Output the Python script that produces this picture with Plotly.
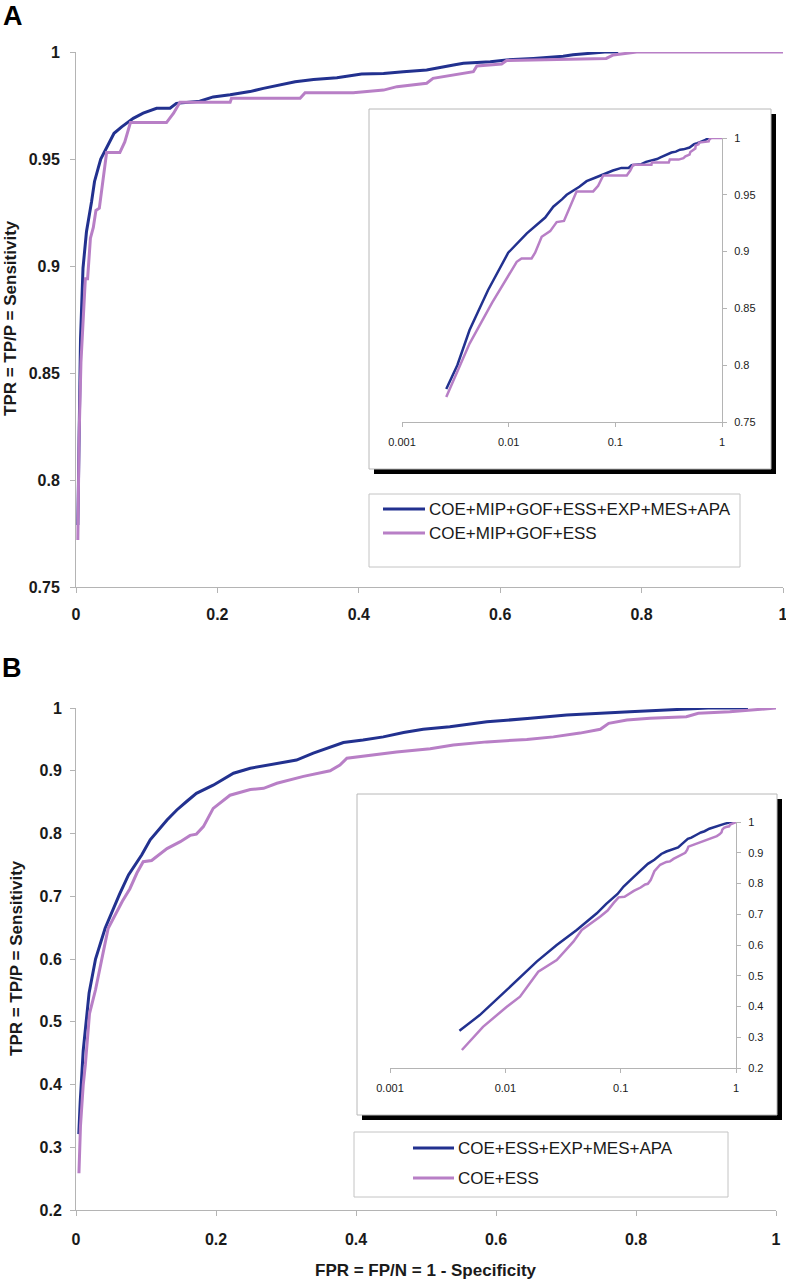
import plotly.graph_objects as go

W, H = 786, 1280

# ---------------- data ----------------
# Panel A
a_blue_fpr = [0.0026, 0.0033, 0.0043, 0.0064, 0.0099, 0.0148, 0.022, 0.0262, 0.0316, 0.035,
              0.046, 0.0538, 0.0646, 0.081, 0.095, 0.114, 0.133, 0.142, 0.175, 0.194,
              0.218, 0.246, 0.265, 0.289, 0.310, 0.336, 0.369, 0.404, 0.435, 0.463,
              0.496, 0.534, 0.548, 0.586, 0.609, 0.647, 0.689, 0.703, 0.748, 0.767]
a_blue_tpr = [0.779, 0.800, 0.831, 0.866, 0.899, 0.916, 0.930, 0.9395, 0.946, 0.950,
              0.957, 0.962, 0.965, 0.969, 0.9714, 0.9737, 0.9737, 0.976, 0.977, 0.979,
              0.980, 0.9815, 0.983, 0.9846, 0.9861, 0.9872, 0.988, 0.9897, 0.990, 0.9908,
              0.9916, 0.9939, 0.9947, 0.9955, 0.9963, 0.997, 0.998, 0.9987, 1.0, 1.0]

a_pink_fpr = [0.0026, 0.0043, 0.0070, 0.0119, 0.0132, 0.0164, 0.0177, 0.0204, 0.0245, 0.0282,
              0.033, 0.0389, 0.0433, 0.062, 0.069, 0.077, 0.128, 0.138, 0.147, 0.218,
              0.220, 0.317, 0.324, 0.392, 0.435, 0.454, 0.496, 0.505, 0.534, 0.562,
              0.567, 0.602, 0.609, 0.708, 0.750, 0.760, 0.793, 1.0]
a_pink_tpr = [0.772, 0.819, 0.855, 0.891, 0.894, 0.894, 0.899, 0.913, 0.918, 0.926,
              0.927, 0.9425, 0.953, 0.953, 0.958, 0.967, 0.967, 0.9714, 0.9765, 0.9765,
              0.9784, 0.9784, 0.981, 0.981, 0.9822, 0.9838, 0.9854, 0.9877, 0.9893, 0.9908,
              0.9935, 0.9944, 0.996, 0.9966, 0.997, 0.9986, 1.0, 1.0]

# Panel B
b_blue_fpr = [0.0040, 0.0060, 0.0103, 0.0187, 0.0279, 0.0416, 0.0621, 0.075, 0.094, 0.106,
              0.130, 0.144, 0.158, 0.172, 0.196, 0.210, 0.225, 0.249, 0.277, 0.315,
              0.339, 0.363, 0.382, 0.410, 0.439, 0.468, 0.496, 0.534, 0.587, 0.649,
              0.701, 0.791, 0.858, 0.903, 0.960]
b_blue_tpr = [0.321, 0.372, 0.454, 0.546, 0.600, 0.649, 0.703, 0.734, 0.766, 0.790,
              0.8215, 0.8375, 0.851, 0.864, 0.877, 0.886, 0.896, 0.904, 0.909, 0.917,
              0.928, 0.937, 0.945, 0.949, 0.954, 0.961, 0.966, 0.970, 0.978, 0.9835,
              0.989, 0.994, 0.997, 1.0, 1.0]

b_pink_fpr = [0.0042, 0.0064, 0.0103, 0.0134, 0.0193, 0.0279, 0.0389, 0.046, 0.0662, 0.077,
              0.087, 0.096, 0.108, 0.130, 0.149, 0.163, 0.172, 0.182, 0.196, 0.220,
              0.249, 0.268, 0.287, 0.325, 0.363, 0.377, 0.387, 0.420, 0.458, 0.506,
              0.539, 0.587, 0.644, 0.682, 0.720, 0.749, 0.761, 0.787, 0.820, 0.872,
              0.889, 0.934, 0.963, 1.0]
b_pink_tpr = [0.2585, 0.334, 0.399, 0.432, 0.513, 0.551, 0.611, 0.649, 0.692, 0.712,
              0.737, 0.755, 0.757, 0.776, 0.787, 0.797, 0.799, 0.811, 0.840, 0.861,
              0.870, 0.872, 0.880, 0.891, 0.900, 0.909, 0.920, 0.925, 0.930, 0.935,
              0.941, 0.946, 0.950, 0.954, 0.960, 0.966, 0.9755, 0.981, 0.9835, 0.986,
              0.9915, 0.994, 0.997, 1.0]

a_names = ["COE+MIP+GOF+ESS+EXP+MES+APA", "COE+MIP+GOF+ESS"]
b_names = ["COE+ESS+EXP+MES+APA", "COE+ESS"]

lin_x_vals = [0, 0.2, 0.4, 0.6, 0.8, 1]
lin_x_text = ["0", "0.2", "0.4", "0.6", "0.8", "1"]
a_y_vals = [0.75, 0.8, 0.85, 0.9, 0.95, 1]
a_y_text = ["0.75", "0.8", "0.85", "0.9", "0.95", "1"]
b_y_vals = [0.2, 0.3, 0.4, 0.5, 0.6, 0.7, 0.8, 0.9, 1]
b_y_text = ["0.2", "0.3", "0.4", "0.5", "0.6", "0.7", "0.8", "0.9", "1"]
log_x_vals = [0.001, 0.01, 0.1, 1]
log_x_text = ["0.001", "0.01", "0.1", "1"]

x_title = "FPR = FP/N = 1 - Specificity"
y_title = "TPR = TP/P = Sensitivity"

# ---------------- style ----------------
BLUE = "#22318f"
PINK = "#b87fc6"
AXIS = "#b4b4b4"
TXT = "#1a1a1a"
FONT = "Liberation Sans, Arial, sans-serif"


def px(x):
    return x / W


def py(y):
    return 1 - y / H


fig = go.Figure()

series = [
    (a_blue_fpr, a_blue_tpr, BLUE, "x", "y", 3),
    (a_pink_fpr, a_pink_tpr, PINK, "x", "y", 3),
    (a_blue_fpr, a_blue_tpr, BLUE, "x3", "y3", 2.5),
    (a_pink_fpr, a_pink_tpr, PINK, "x3", "y3", 2.5),
    (b_blue_fpr, b_blue_tpr, BLUE, "x2", "y2", 3),
    (b_pink_fpr, b_pink_tpr, PINK, "x2", "y2", 3),
    (b_blue_fpr, b_blue_tpr, BLUE, "x4", "y4", 2.5),
    (b_pink_fpr, b_pink_tpr, PINK, "x4", "y4", 2.5),
]
for xs, ys, col, xa, ya, lw in series:
    fig.add_trace(go.Scatter(x=xs, y=ys, mode="lines", xaxis=xa, yaxis=ya,
                             line=dict(color=col, width=lw), showlegend=False,
                             hoverinfo="skip"))

main_tick = dict(family=FONT, size=16, color=TXT, weight="bold")
inset_tick = dict(family=FONT, size=11, color=TXT)

common = dict(showgrid=False, zeroline=False, showline=True, linecolor=AXIS, linewidth=1,
              ticks="outside", tickcolor=AXIS, tickwidth=1, fixedrange=True,
              automargin=False, ticklabeloverflow="allow")

fig.update_layout(
    template="none",
    width=W, height=H, autosize=False,
    margin=dict(l=0, r=0, t=0, b=0, pad=0, autoexpand=False),
    paper_bgcolor="white", plot_bgcolor="rgba(0,0,0,0)",
    showlegend=False,
    xaxis=dict(domain=[px(76), px(783)], range=[0, 1], anchor="y",
               tickvals=lin_x_vals, ticktext=lin_x_text, tickfont=main_tick,
               ticklen=5, ticklabelstandoff=8, **common),
    yaxis=dict(domain=[py(587), py(52)], range=[0.75, 1], anchor="x",
               tickvals=a_y_vals, ticktext=a_y_text, tickfont=main_tick,
               ticklen=5, ticklabelstandoff=7, **common),
    xaxis2=dict(domain=[px(76), px(776)], range=[0, 1], anchor="y2",
                tickvals=lin_x_vals, ticktext=lin_x_text, tickfont=main_tick,
                ticklen=5, ticklabelstandoff=10, **common),
    yaxis2=dict(domain=[py(1210), py(708)], range=[0.2, 1], anchor="x2",
                tickvals=b_y_vals, ticktext=b_y_text, tickfont=main_tick,
                ticklen=5, ticklabelstandoff=5, **common),
    xaxis3=dict(domain=[px(402), px(722)], type="log", range=[-3, 0], anchor="y3",
                tickvals=log_x_vals, ticktext=log_x_text, tickfont=inset_tick,
                ticklen=4, ticklabelstandoff=6, **common),
    yaxis3=dict(domain=[py(422), py(138)], range=[0.75, 1], anchor="x3", side="right",
                tickvals=a_y_vals, ticktext=a_y_text, tickfont=inset_tick,
                ticklen=4, ticklabelstandoff=5, **common),
    xaxis4=dict(domain=[px(390), px(736)], type="log", range=[-3, 0], anchor="y4",
                tickvals=log_x_vals, ticktext=log_x_text, tickfont=inset_tick,
                ticklen=4, ticklabelstandoff=6, **common),
    yaxis4=dict(domain=[py(1068), py(822)], range=[0.2, 1], anchor="x4", side="right",
                tickvals=b_y_vals, ticktext=b_y_text, tickfont=inset_tick,
                ticklen=4, ticklabelstandoff=5, **common),
)

shapes = []


def rect(x0, y0, x1, y1, fill, line_col, lw):
    shapes.append(dict(type="rect", xref="paper", yref="paper", layer="below",
                       x0=px(x0), x1=px(x1), y0=py(y1), y1=py(y0),
                       fillcolor=fill, line=dict(color=line_col, width=lw)))


# inset frames with drop shadow
rect(374, 114, 776, 474, "black", "black", 0)
rect(369, 109, 771, 469, "white", "#b8b8b8", 1)
rect(362, 799, 782, 1120, "black", "black", 0)
rect(357, 794, 777, 1115, "white", "#b8b8b8", 1)
# legend boxes
rect(369, 494, 740, 567, "white", "#c4c4c4", 1)
rect(354, 1132, 728, 1197, "white", "#c4c4c4", 1)

annotations = []


def legend_item(x0, x1, y, col, label):
    shapes.append(dict(type="line", xref="paper", yref="paper", layer="above",
                       x0=px(x0), x1=px(x1), y0=py(y), y1=py(y),
                       line=dict(color=col, width=3)))
    annotations.append(dict(xref="paper", yref="paper", x=px(x1 + 2), y=py(y),
                            xanchor="left", yanchor="middle", showarrow=False,
                            text=label, font=dict(family=FONT, size=17, color=TXT)))


legend_item(383, 425, 509, BLUE, a_names[0])
legend_item(383, 425, 533, PINK, a_names[1])
legend_item(413, 454, 1148, BLUE, b_names[0])
legend_item(413, 454, 1178, PINK, b_names[1])

# panel letters
annotations.append(dict(xref="paper", yref="paper", x=px(1), y=py(16), xanchor="left",
                        yanchor="middle", showarrow=False, text="A",
                        font=dict(family=FONT, size=27, color="black", weight="bold")))
annotations.append(dict(xref="paper", yref="paper", x=px(0), y=py(668), xanchor="left",
                        yanchor="middle", showarrow=False, text="B",
                        font=dict(family=FONT, size=27, color="black", weight="bold")))
# axis titles
annotations.append(dict(xref="paper", yref="paper", x=px(10), y=py(318), textangle=-90,
                        xanchor="center", yanchor="middle", showarrow=False, text=y_title,
                        font=dict(family=FONT, size=17, color=TXT, weight="bold")))
annotations.append(dict(xref="paper", yref="paper", x=px(16), y=py(958), textangle=-90,
                        xanchor="center", yanchor="middle", showarrow=False, text=y_title,
                        font=dict(family=FONT, size=17, color=TXT, weight="bold")))
annotations.append(dict(xref="paper", yref="paper", x=px(426), y=py(1270),
                        xanchor="center", yanchor="middle", showarrow=False, text=x_title,
                        font=dict(family=FONT, size=17, color=TXT, weight="bold")))

fig.update_layout(shapes=shapes, annotations=annotations)
fig.write_html(
    "out.html",
    config={"displayModeBar": False, "responsive": False},
    post_script=("document.documentElement.style.margin='0';"
                 "document.body.style.margin='0';"
                 "document.body.style.padding='0';"
                 "document.body.style.overflow='hidden';"),
)
